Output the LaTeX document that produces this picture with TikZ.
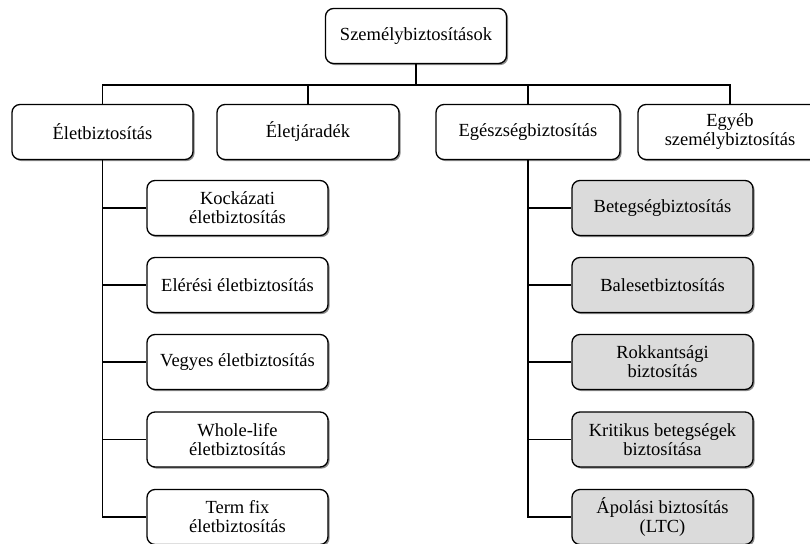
\documentclass[tikz,border=0pt]{standalone}
\usepackage{fontspec}
\setmainfont{Liberation Serif}
\usetikzlibrary{shadows}
\begin{document}
\begin{tikzpicture}[x=1pt,y=-1pt,
  box/.style={draw=black, line width=1.3pt, rounded corners=8pt, fill=white,
    minimum height=55pt, inner sep=2pt, align=center,
    font=\fontsize{18.5}{19}\selectfont,
    drop shadow={shadow xshift=1.6pt, shadow yshift=-1.6pt, fill=black, opacity=0.45}},
  gbox/.style={box, fill=black!14},
  conn/.style={line width=1.3pt, draw=black}]
\useasboundingbox (0,0) rectangle (810,543);
\node[box, minimum width=181pt] (top) at (416,36) {Személybiztosítások};
\node[box, minimum width=181pt] (eb) at (102.5,132) {Életbiztosítás};
\node[box, minimum width=182pt] (ej) at (308,132) {Életjáradék};
\node[box, minimum width=184pt] (eg) at (528,132) {Egészségbiztosítás};
\node[box, minimum width=184pt] (egy) at (730,132) {Egyéb\\személybiztosítás};
\node[box, minimum width=181pt] (l1) at (237.5,208) {Kockázati\\életbiztosítás};
\node[box, minimum width=181pt] (l2) at (237.5,285) {Elérési életbiztosítás};
\node[box, minimum width=181pt] (l3) at (237.5,362) {Vegyes életbiztosítás};
\node[box, minimum width=181pt] (l4) at (237.5,439.5) {Whole-life\\életbiztosítás};
\node[box, minimum width=181pt] (l5) at (237.5,517) {Term fix\\életbiztosítás};
\node[gbox, minimum width=181pt] (r1) at (662.5,208) {Betegségbiztosítás};
\node[gbox, minimum width=181pt] (r2) at (662.5,285) {Balesetbiztosítás};
\node[gbox, minimum width=181pt] (r3) at (662.5,362) {Rokkantsági\\biztosítás};
\node[gbox, minimum width=181pt] (r4) at (662.5,439.5) {Kritikus betegségek\\biztosítása};
\node[gbox, minimum width=181pt] (r5) at (662.5,517) {Ápolási biztosítás\\(LTC)};
\coordinate (bus) at (0,85);
\draw[conn] (top.south) -- (top.south |- bus);
\draw[conn] (eb.north) -- (eb.north |- bus) -- (egy.north |- bus) -- (egy.north);
\draw[conn] (ej.north) -- (ej.north |- bus);
\draw[conn] (eg.north) -- (eg.north |- bus);
\draw[conn] (eb.south) -- (eb.south |- l5.west) -- (l5.west);
\foreach \n in {l1,l2,l3,l4} \draw[conn] (eb.south |- \n.west) -- (\n.west);
\draw[conn] (eg.south) -- (eg.south |- r5.west) -- (r5.west);
\foreach \n in {r1,r2,r3,r4} \draw[conn] (eg.south |- \n.west) -- (\n.west);
\end{tikzpicture}
\end{document}
